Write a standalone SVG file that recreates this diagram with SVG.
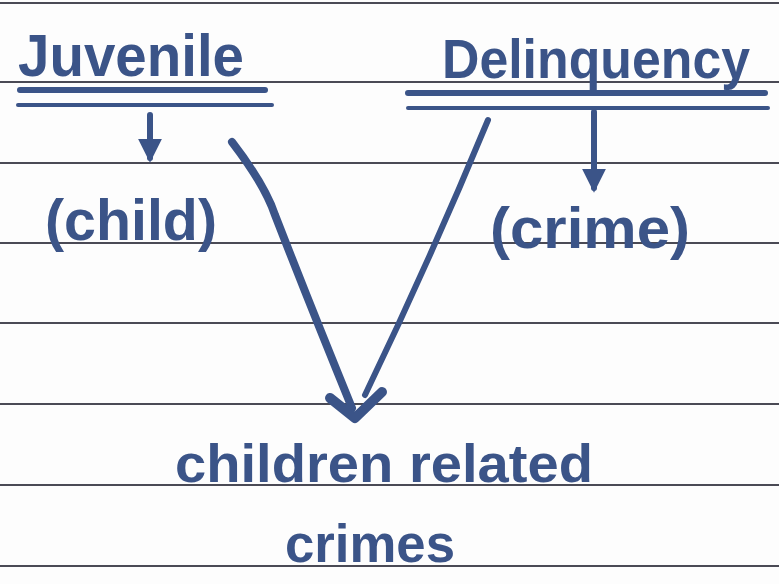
<svg xmlns="http://www.w3.org/2000/svg" width="779" height="584" viewBox="0 0 779 584">
<style>
.rule{stroke:#4a4a55;stroke-width:2}
.ink{fill:#3b5488;font-family:"Liberation Sans",Arial,sans-serif;font-weight:bold}
.pen{stroke:#3b5488;fill:none;stroke-linecap:round;stroke-linejoin:round}
</style>
<defs>
<marker id="ah" viewBox="0 0 10 10" refX="8" refY="5" markerWidth="4" markerHeight="4" orient="auto">
<path d="M0,0 L10,5 L0,10 z" fill="#3b5488"/>
</marker>
</defs>
<rect width="779" height="584" fill="#fdfdfd"/>
<g id="paper-lines">
<line class="rule" x1="0" y1="3" x2="779" y2="3"/>
<line class="rule" x1="0" y1="82" x2="779" y2="82"/>
<line class="rule" x1="0" y1="163" x2="779" y2="163"/>
<line class="rule" x1="0" y1="243" x2="779" y2="243"/>
<line class="rule" x1="0" y1="323" x2="779" y2="323"/>
<line class="rule" x1="0" y1="404" x2="779" y2="404"/>
<line class="rule" x1="0" y1="485" x2="779" y2="485"/>
<line class="rule" x1="0" y1="566" x2="779" y2="566"/>
</g>
<g id="juvenile">
<line class="pen" x1="20" y1="90" x2="265" y2="90" stroke-width="6"/>
<line class="pen" x1="18" y1="105" x2="272" y2="105" stroke-width="4"/>
<text class="ink" x="18" y="76" font-size="60" textLength="226" lengthAdjust="spacingAndGlyphs">Juvenile</text>
</g>
<g id="delinquency">
<line class="pen" x1="408" y1="93" x2="765" y2="93" stroke-width="6"/>
<line class="pen" x1="408" y1="108" x2="768" y2="108" stroke-width="4"/>
<text class="ink" x="442" y="78" font-size="56" textLength="308" lengthAdjust="spacingAndGlyphs">Delinquency</text>
</g>
<g id="child">
<text class="ink" x="45" y="240" font-size="58" textLength="172" lengthAdjust="spacingAndGlyphs">(child)</text>
</g>
<g id="crime">
<text class="ink" x="490" y="248" font-size="58" textLength="200" lengthAdjust="spacingAndGlyphs">(crime)</text>
</g>
<g id="result">
<text class="ink" x="175" y="482" font-size="54" textLength="418" lengthAdjust="spacingAndGlyphs">children related</text>
<text class="ink" x="285" y="562" font-size="54" textLength="170" lengthAdjust="spacingAndGlyphs">crimes</text>
</g>
<g id="connectors">
<line class="pen" x1="150" y1="115" x2="150" y2="158" stroke-width="6" marker-end="url(#ah)"/>
<line class="pen" x1="594" y1="112" x2="594" y2="188" stroke-width="6" marker-end="url(#ah)"/>
<path class="pen" d="M232,142 Q265,185 275,215 Q310,305 352,408" stroke-width="8"/>
<path class="pen" d="M488,120 Q430,260 365,395" stroke-width="6"/>
<path class="pen" d="M330,398 L355,418 L382,392" stroke-width="10"/>
</g>
</svg>
